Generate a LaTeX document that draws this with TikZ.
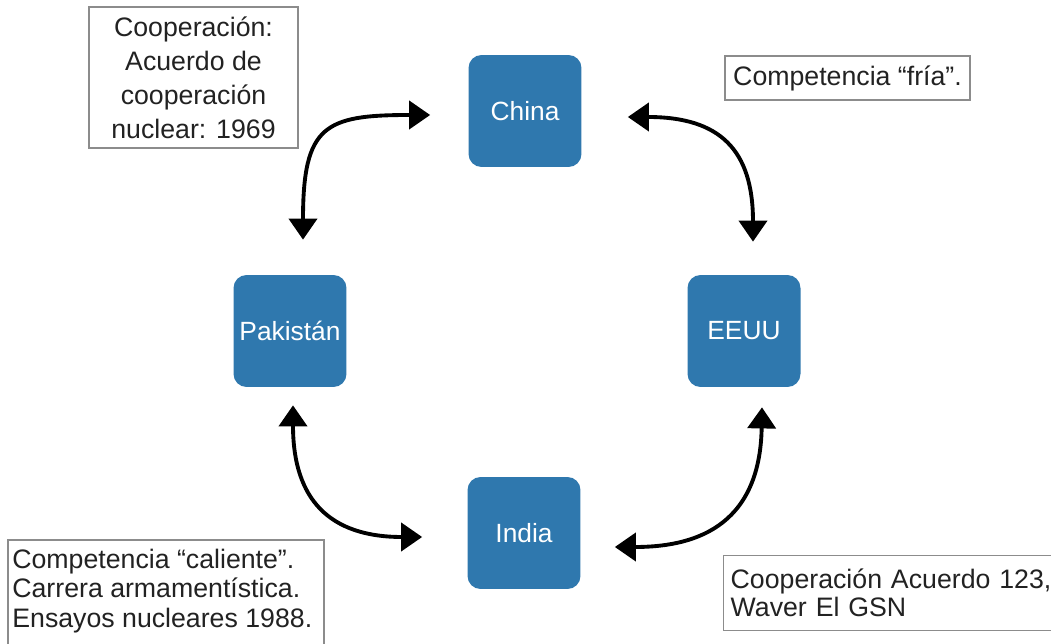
\documentclass[tikz,border=0pt]{standalone}
\usepackage{fontspec}
\setmainfont{Liberation Sans}
\usepackage{xcolor}
\usetikzlibrary{arrows.meta}
\usetikzlibrary{calc}
\definecolor{nodeblue}{HTML}{2F78AE}
\definecolor{boxgray}{HTML}{8C8C8C}
\definecolor{notetext}{HTML}{222222}

\begin{document}
\begin{tikzpicture}[x=0.02cm, y=-0.02cm,
	country/.style={fill=nodeblue, rounded corners=0.26cm, minimum width=2.26cm, minimum height=2.24cm, inner sep=0, text=white, font=\fontsize{15}{18}\selectfont},
	note/.style={draw=boxgray, line width=0.8pt, fill=white, text=notetext, font=\fontsize{15.2}{18}\selectfont},
	twoway/.style={{Triangle[length=12pt,width=16pt]}-{Triangle[length=12pt,width=16pt]}, line width=2.2pt, line cap=round}]
	    		\useasboundingbox (0,0) rectangle (1051,644);
	    		\node[country] (china) at (525,111) {China};
	    		\node[country] (pak) at (290,331) {Pakistán};
	    		\node[country] (eeuu) at (744,331) {EEUU};
	    		\node[country] (india) at (524,533) {India};
	    		\draw[twoway] ($(pak.north)+(13,-35)$) .. controls (303,125) and (325,115) .. ($(china.west)+(-38,4)$);
	    		\draw[twoway] ($(china.east)+(46,6)$) .. controls (720,117) and (753,150) .. ($(eeuu.north)+(9,-33)$);
	    		\draw[twoway] ($(pak.south)+(3,18)$) .. controls (293,500) and (330,537) .. ($(india.west)+(-45,4)$);
	    		\draw[twoway] ($(eeuu.south)+(18,20)$) .. controls (760,530) and (690,547) .. ($(india.east)+(34,14)$);
	    		\node[note, minimum width=4.18cm, minimum height=2.82cm, align=center, font=\fontsize{15.2}{19.3}\selectfont] (nuclear) at (193.5,77.5) {Cooperación:\\Acuerdo de\\cooperación\\nuclear: 1969};
	    		\node[note, minimum width=4.9cm, minimum height=0.88cm] (fria) at (847.5,78) {Competencia “fría”.};
	    		\draw[note] (8,540) rectangle (324,660);
	    		\node[text=notetext, font=\fontsize{15.2}{16.6}\selectfont, align=left, inner sep=0, anchor=north west] (caliente) at (12,549) {Competencia “caliente”.\\Carrera armamentística.\\Ensayos nucleares 1988.};
	    		\node[note, anchor=north west, minimum height=1.5cm, text width=7cm, inner xsep=0.14cm, align=left, font=\fontsize{15.2}{15.9}\selectfont] (acuerdo) at (723,555) {Cooperación Acuerdo 123,\\Waver El GSN};
	    	\end{tikzpicture}
\end{document}
